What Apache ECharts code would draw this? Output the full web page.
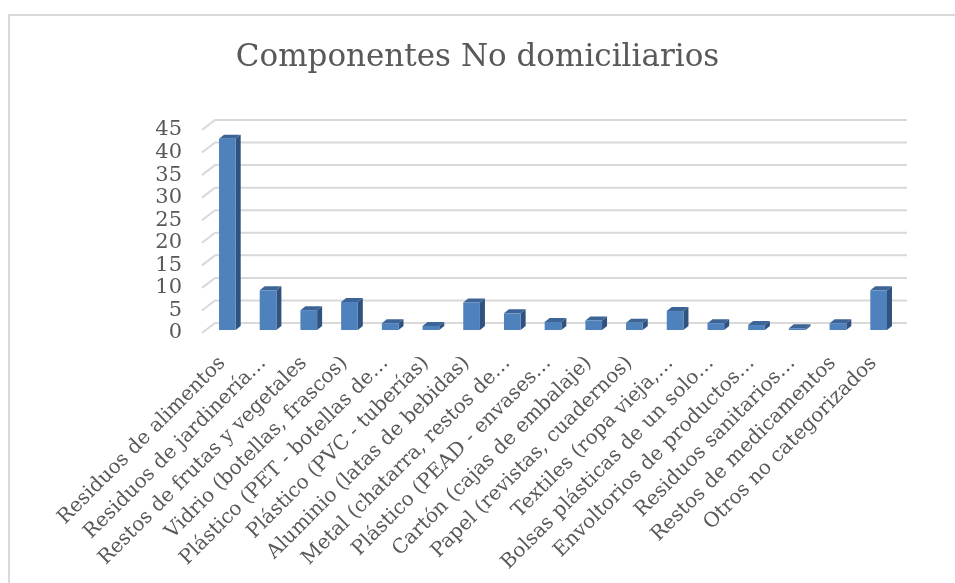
<!DOCTYPE html>
<html>
<head>
<meta charset="utf-8">
<script src="https://cdn.jsdelivr.net/npm/echarts@6/dist/echarts.min.js"></script>
<style>
html,body{margin:0;padding:0;background:#fff;}
#chart{width:955px;height:583px;}
</style>
</head>
<body>
<div id="chart"></div>
<script>
var titleText = 'Componentes No domiciliarios';
var categories = [
  'Residuos de alimentos',
  'Residuos de jardinería…',
  'Restos de frutas y vegetales',
  'Vidrio (botellas, frascos)',
  'Plástico (PET - botellas de…',
  'Plástico (PVC - tuberías)',
  'Aluminio (latas de bebidas)',
  'Metal (chatarra, restos de…',
  'Plástico (PEAD - envases…',
  'Cartón (cajas de embalaje)',
  'Papel (revistas, cuadernos)',
  'Textiles (ropa vieja,…',
  'Bolsas plásticas de un solo…',
  'Envoltorios de productos…',
  'Residuos sanitarios…',
  'Restos de medicamentos',
  'Otros no categorizados'
];
var values = [42.4, 8.8, 4.4, 6.2, 1.5, 0.9, 6.1, 3.7, 1.8, 2.1, 1.6, 4.2, 1.5, 1.1, 0.4, 1.5, 8.8];
var yTicks = [0, 5, 10, 15, 20, 25, 30, 35, 40, 45];

var FONT = 'DejaVu Serif';
var TEXT = '#595959';
var WALL_DX = 13, WALL_DY = -10;
var BAR_OX = 5, BAR_OY = -3, BAR_DX = 5, BAR_DY = -4;

var chart = echarts.init(document.getElementById('chart'), null, {renderer: 'canvas'});
chart.setOption({
  backgroundColor: '#ffffff',
  animation: false,
  title: {
    text: titleText,
    left: 'center',
    top: 37,
    textStyle: {fontFamily: FONT, fontSize: 31, fontWeight: 'normal', color: TEXT}
  },
  graphic: [{
    type: 'rect',
    shape: {x: 9, y: 15, width: 1000, height: 1000},
    style: {fill: null, stroke: '#d9d9d9', lineWidth: 2},
    silent: true
  }],
  grid: {left: 202, right: 61, top: 130, bottom: 250, containLabel: false},
  xAxis: {
    type: 'category',
    data: categories,
    axisLine: {show: false},
    axisTick: {show: false},
    axisLabel: {interval: 0, rotate: 45, margin: 27, fontFamily: FONT, fontSize: 20, color: TEXT}
  },
  yAxis: {
    type: 'value',
    min: 0, max: 45, interval: 5,
    axisLine: {show: false},
    axisTick: {show: false},
    splitLine: {show: false},
    axisLabel: {margin: 20, fontFamily: FONT, fontSize: 21, color: TEXT, padding: [5, 0, 0, 0]}
  },
  series: [
    {
      type: 'custom',
      silent: true,
      z: 1,
      data: yTicks.map(function (v) { return [0, v]; }),
      renderItem: function (params, api) {
        var cs = params.coordSys;
        var y = api.coord([0, api.value(1)])[1];
        return {
          type: 'polyline',
          shape: {points: [[cs.x, y], [cs.x + WALL_DX, y + WALL_DY], [cs.x + cs.width + WALL_DX, y + WALL_DY]]},
          style: {stroke: '#d9d9d9', lineWidth: 2, fill: null}
        };
      }
    },
    {
      type: 'custom',
      z: 2,
      data: values.map(function (v, i) { return [i, v]; }),
      renderItem: function (params, api) {
        var i = api.value(0), v = api.value(1);
        var base = api.coord([i, 0]);
        var top = api.coord([i, v]);
        var bw = api.size([1, 0])[0] * 0.41;
        var x0 = base[0] - bw / 2 + BAR_OX, x1 = x0 + bw;
        var yb = base[1] + BAR_OY, yt = top[1] + BAR_OY;
        return {
          type: 'group',
          children: [
            {type: 'polygon', shape: {points: [[x1, yb], [x1 + BAR_DX, yb + BAR_DY], [x1 + BAR_DX, yt + BAR_DY], [x1, yt]]}, style: {fill: '#30527f'}},
            {type: 'polygon', shape: {points: [[x0, yt], [x0 + BAR_DX, yt + BAR_DY], [x1 + BAR_DX, yt + BAR_DY], [x1, yt]]}, style: {fill: '#3c6496'}},
            {type: 'rect', shape: {x: x0, y: yt, width: bw, height: yb - yt}, style: {fill: '#4f81bd'}}
          ]
        };
      }
    }
  ]
});
</script>
</body>
</html>
